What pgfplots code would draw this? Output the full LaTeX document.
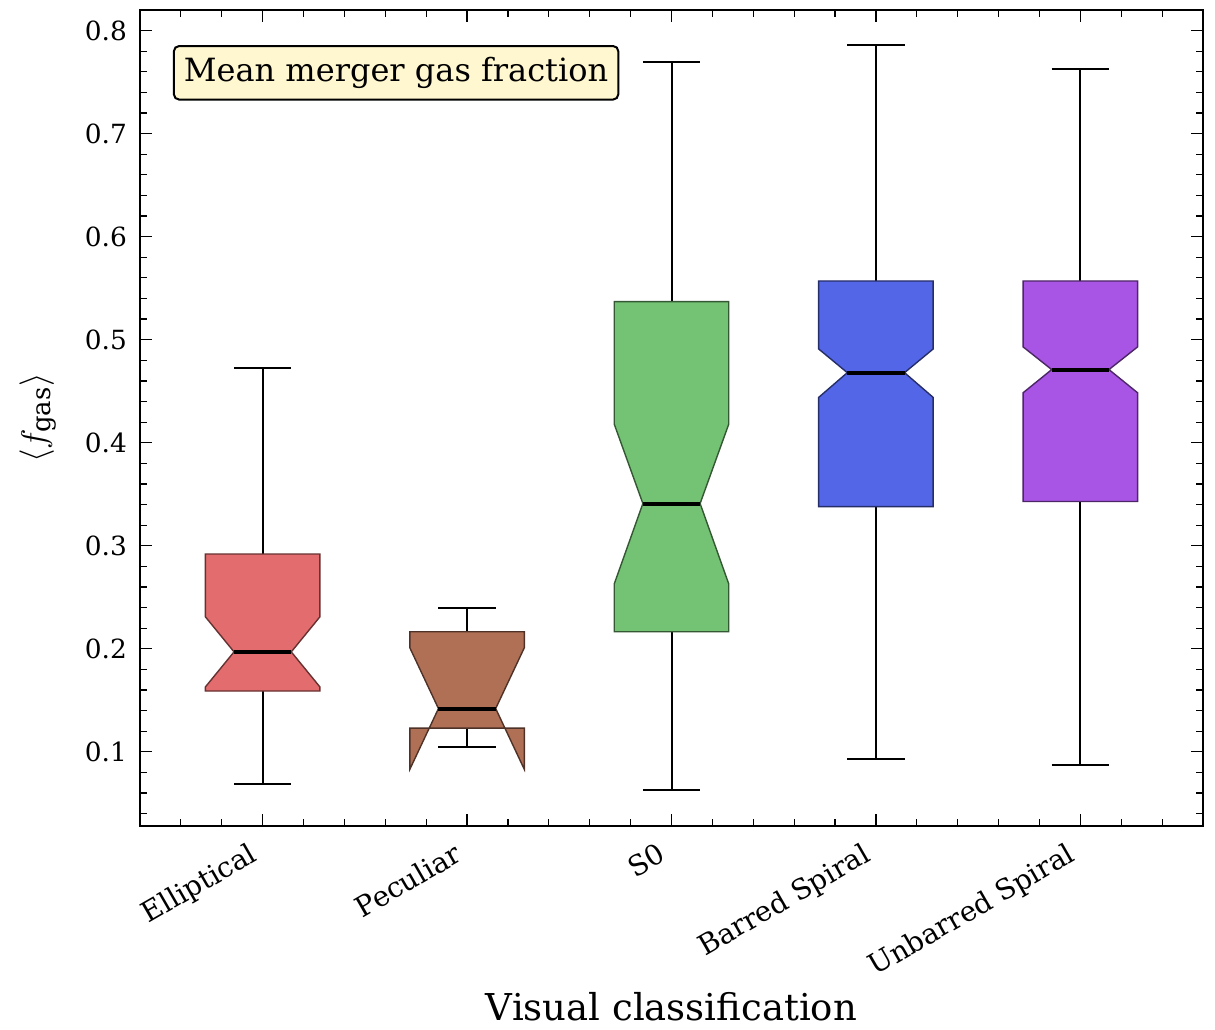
\documentclass[border=0pt]{standalone}
\usepackage{pgfplots}
\pgfplotsset{compat=1.18}
\usepackage{fontspec}
\setmainfont{DejaVu Serif}

\definecolor{cEll}{RGB}{227,108,110}
\definecolor{cPec}{RGB}{176,112,86}
\definecolor{cSzero}{RGB}{116,194,116}
\definecolor{cBar}{RGB}{84,102,232}
\definecolor{cUnb}{RGB}{168,84,228}
\definecolor{noteyellow}{RGB}{255,247,208}

% Notched box: #1 position, #2 lower whisker, #3 Q1, #4 lower notch,
% #5 median, #6 upper notch, #7 Q3, #8 upper whisker, #9 colour
\newcommand{\notchbox}[9]{%
  \pgfmathsetmacro\bxL{#1-0.28}\pgfmathsetmacro\bxR{#1+0.28}%
  \pgfmathsetmacro\bwL{#1-0.14}\pgfmathsetmacro\bwR{#1+0.14}%
  \addplot[black, line width=1pt] coordinates {(#1,#7) (#1,#8)};
  \addplot[black, line width=1pt] coordinates {(#1,#3) (#1,#2)};
  \addplot[black, line width=1pt] coordinates {(\bwL,#8) (\bwR,#8)};
  \addplot[black, line width=1pt] coordinates {(\bwL,#2) (\bwR,#2)};
  \addplot[fill=#9, draw=#9!45!black, line width=0.7pt] coordinates {
    (\bxL,#3) (\bxL,#4) (\bwL,#5) (\bxL,#6) (\bxL,#7)
    (\bxR,#7) (\bxR,#6) (\bwR,#5) (\bxR,#4) (\bxR,#3)} -- cycle;
  \addplot[black, line width=2pt] coordinates {(\bwL,#5) (\bwR,#5)};
}

\begin{document}
\begin{tikzpicture}
\begin{axis}[
  name=ax,
  scale only axis,
  width=531.5pt, height=408pt,
  xmin=0.4, xmax=5.6, ymin=0.028, ymax=0.820,
  xtick={1,2,3,4,5},
  xticklabels={Elliptical,Peculiar,S0,Barred Spiral,Unbarred Spiral},
  minor xtick={0.4,0.6,...,5.6},
  ytick={0.1,0.2,0.3,0.4,0.5,0.6,0.7,0.8},
  minor ytick={0.04,0.06,...,0.82},
  tick align=inside,
  major tick length=6pt, minor tick length=3.5pt,
  every tick/.style={black, line width=0.6pt},
  axis line style={black, line width=1pt},
  tick label style={font=\fontsize{13.2}{15}\selectfont},
  /pgf/number format/assume math mode=true,
  yticklabel style={/pgf/number format/fixed, /pgf/number format/precision=1, /pgf/number format/fixed zerofill, xshift=-3pt},
  xticklabel style={font=\fontsize{14}{16}\selectfont, xshift=-6pt, yshift=-3pt, rotate=30, anchor=north east},
  xlabel={Visual classification},
  ylabel={$\langle f_{\mathrm{gas}}\rangle$},
  every axis x label/.style={at={(axis description cs:0.5,-0.221)}, anchor=center,
    font=\fontsize{18.5}{22}\selectfont},
  every axis y label/.style={at={(axis description cs:-0.096,0.5)}, rotate=90, anchor=center,
    font=\fontsize{18.5}{22}\selectfont},
  clip=false,
]
\notchbox{1}{0.069}{0.159}{0.163}{0.197}{0.231}{0.292}{0.473}{cEll}
\notchbox{2}{0.105}{0.123}{0.083}{0.142}{0.201}{0.2165}{0.240}{cPec}
\notchbox{3}{0.063}{0.2165}{0.263}{0.341}{0.418}{0.537}{0.770}{cSzero}
\notchbox{4}{0.093}{0.338}{0.444}{0.468}{0.491}{0.557}{0.786}{cBar}
\notchbox{5}{0.087}{0.343}{0.4485}{0.471}{0.493}{0.557}{0.763}{cUnb}

\node[anchor=north west, draw=black, line width=1pt, rounded corners=2.5pt,
      fill=noteyellow, inner xsep=5pt, inner ysep=5.5pt,
      font=\fontsize{16}{19}\selectfont]
  at (rel axis cs:0.031,0.957) {Mean merger gas fraction};
\end{axis}
\pgfresetboundingbox
\path ([shift={(-70pt,-101.5pt)}]ax.south west) rectangle ([shift={(6pt,5pt)}]ax.north east);
\end{tikzpicture}
\end{document}
